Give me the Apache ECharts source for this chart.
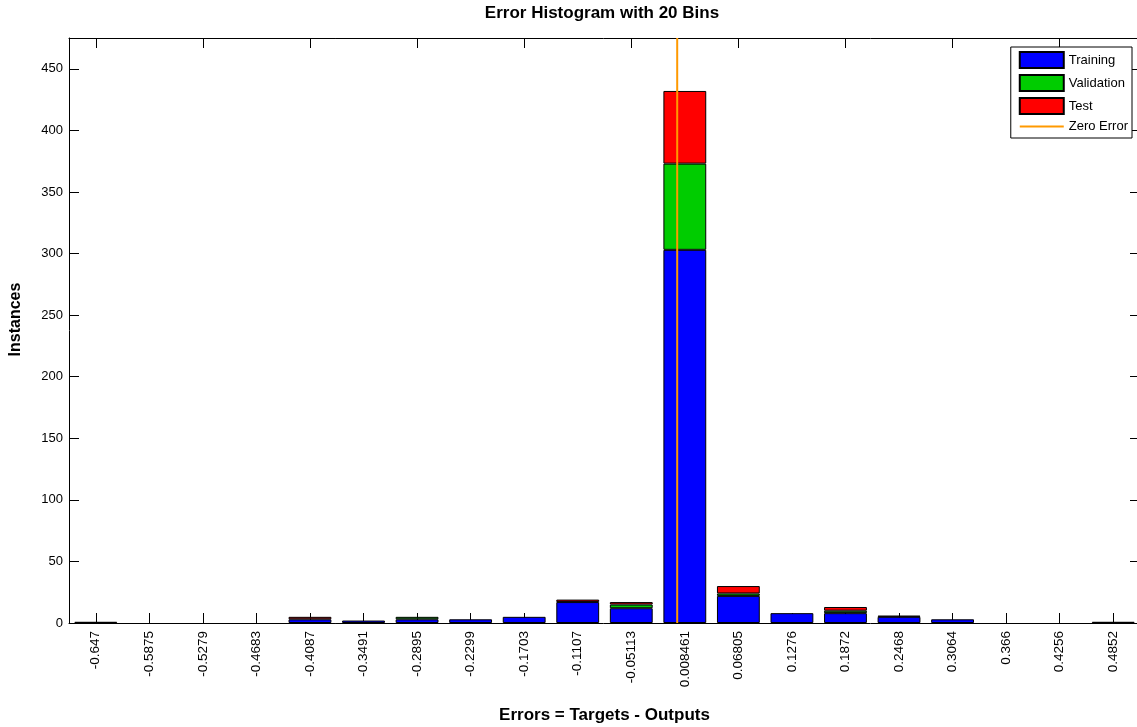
<!DOCTYPE html>
<html>
<head>
<meta charset="utf-8">
<script src="https://cdn.jsdelivr.net/npm/echarts@6/dist/echarts.min.js"></script>
<style>
html,body{margin:0;padding:0;background:#fff;}
#chart{width:1137px;height:727px;}
</style>
</head>
<body>
<div id="chart"></div>
<script>
// Bin centre labels (as printed on the axis)
const binLabels = ['-0.647','-0.5875','-0.5279','-0.4683','-0.4087','-0.3491','-0.2895','-0.2299','-0.1703','-0.1107','-0.05113','0.008461','0.06805','0.1276','0.1872','0.2468','0.3064','0.366','0.4256','0.4852'];
// Instances per bin
const training   = [0,0,0,0,3,2,3,3,5,17,12,303,22,8,8,5,3,0,0,0];
const validation = [0,0,0,0,0,0,2,0,0,0,3,70,2,0,2,0,0,0,0,0];
const test       = [1,0,0,0,2,0,0,0,0,2,2,59,6,0,3,1,0,0,0,1];
const zeroError  = 0;
const yTicks = {min: 0, max: 475, interval: 50};

const centres = binLabels.map(Number);
const binW = (centres[centres.length-1] - centres[0]) / (centres.length - 1);
const xMin = centres[0] - binW/2, xMax = centres[centres.length-1] + binW/2;
const nz = a => a.map(v => v === 0 ? null : v);

const sans = '"Liberation Sans", Arial, sans-serif';
const tickLen = 10;
const axisLineStyle = {show: true, onZero: false, lineStyle: {color: '#000', width: 1}};

const chart = echarts.init(document.getElementById('chart'), null, {renderer: 'canvas'});
chart.setOption({
  animation: false,
  backgroundColor: '#fff',
  title: {
    text: 'Error Histogram with 20 Bins',
    left: 597, top: 0, textAlign: 'center',
    textStyle: {fontFamily: sans, fontSize: 17, fontWeight: 'bold', color: '#000'}
  },
  legend: {
    orient: 'vertical', right: 5, top: 47,
    data: [
      {name: 'Training', icon: 'rect'},
      {name: 'Validation', icon: 'rect'},
      {name: 'Test', icon: 'rect'},
      {name: 'Zero Error', icon: 'path://M0,0 L44,0 L44,2 L0,2 Z'}
    ],
    symbolKeepAspect: true,
    itemWidth: 44, itemHeight: 16, itemGap: 5,
    padding: [4, 4, 5, 8],
    borderColor: '#000', borderWidth: 1, backgroundColor: '#fff',
    textStyle: {fontFamily: sans, fontSize: 13, color: '#000'}
  },
  grid: {left: 69, right: -3, top: 38, bottom: 104, containLabel: false, outerBoundsMode: 'none'},
  xAxis: [
    {
      type: 'category', data: binLabels, position: 'bottom',
      boundaryGap: true,
      name: 'Errors = Targets - Outputs', nameLocation: 'middle', nameGap: 84,
      nameTextStyle: {fontFamily: sans, fontSize: 17, fontWeight: 'bold', color: '#000'},
      axisLine: axisLineStyle,
      axisTick: {show: true, inside: true, length: tickLen, alignWithLabel: true, lineStyle: {color: '#000'}},
      axisLabel: {rotate: 90, margin: 8, fontFamily: sans, fontSize: 13.5, color: '#000', interval: 0},
      splitLine: {show: false}
    },
    {
      type: 'category', data: binLabels, position: 'top',
      boundaryGap: true,
      axisLine: axisLineStyle,
      axisTick: {show: true, inside: true, length: tickLen, alignWithLabel: true, lineStyle: {color: '#000'}},
      axisLabel: {show: false},
      splitLine: {show: false}
    },
    {
      type: 'value', min: xMin, max: xMax, show: false
    }
  ],
  yAxis: [
    {
      type: 'value', min: yTicks.min, max: yTicks.max, interval: yTicks.interval,
      position: 'left',
      name: 'Instances', nameLocation: 'middle', nameGap: 45,
      nameTextStyle: {fontFamily: sans, fontSize: 16, fontWeight: 'bold', color: '#000', padding: [0, 0, 0, 22]},
      axisLine: axisLineStyle,
      axisTick: {show: true, inside: true, length: tickLen, lineStyle: {color: '#000'}},
      axisLabel: {showMaxLabel: false, margin: 6, fontFamily: sans, fontSize: 13, color: '#000'},
      splitLine: {show: false}
    },
    {
      type: 'value', min: yTicks.min, max: yTicks.max, interval: yTicks.interval,
      position: 'right',
      axisLine: axisLineStyle,
      axisTick: {show: true, inside: true, length: tickLen, lineStyle: {color: '#000'}},
      axisLabel: {show: false},
      splitLine: {show: false}
    }
  ],
  series: [
    {
      name: 'Training', type: 'bar', stack: 'hist', barWidth: '80%',
      xAxisIndex: 0, yAxisIndex: 0,
      itemStyle: {color: '#0000FF', borderColor: '#000', borderWidth: 1},
      data: nz(training)
    },
    {
      name: 'Validation', type: 'bar', stack: 'hist', barWidth: '80%',
      xAxisIndex: 0, yAxisIndex: 0,
      itemStyle: {color: '#00CC00', borderColor: '#000', borderWidth: 1},
      data: nz(validation)
    },
    {
      name: 'Test', type: 'bar', stack: 'hist', barWidth: '80%',
      xAxisIndex: 0, yAxisIndex: 0,
      itemStyle: {color: '#FF0000', borderColor: '#000', borderWidth: 1},
      data: nz(test)
    },
    {
      name: 'Zero Error', type: 'line', xAxisIndex: 2, yAxisIndex: 0,
      symbol: 'none', z: 5,
      lineStyle: {color: '#FF9900', width: 2},
      itemStyle: {color: '#FF9900'},
      data: [[zeroError, yTicks.min], [zeroError, yTicks.max]]
    }
  ]
});
</script>
</body>
</html>
